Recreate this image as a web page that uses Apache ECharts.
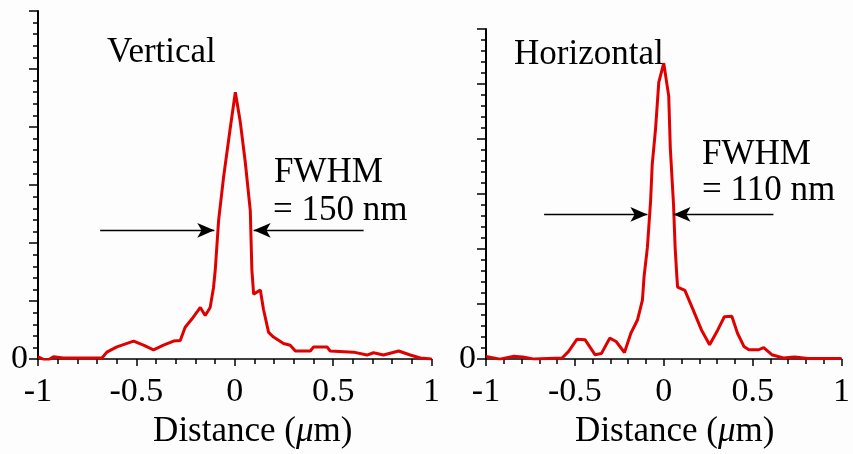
<!DOCTYPE html>
<html>
<head>
<meta charset="utf-8">
<script src="https://cdn.jsdelivr.net/npm/echarts@6/dist/echarts.min.js"></script>
<style>
  html, body { margin: 0; padding: 0; background: #fcfdfc; }
  #main { width: 853px; height: 454px; }
</style>
</head>
<body>
<div id="main"></div>
<script>
// vertical profile (distance in um, intensity in arbitrary units)
var vertX = [-1.0, -0.955, -0.921, -0.872, -0.675, -0.650, -0.599, -0.514, -0.464, -0.413, -0.362, -0.311, -0.277,
  -0.252, -0.218, -0.175, -0.150, -0.125, -0.108, -0.099, -0.082, -0.057, -0.023, 0.003, 0.028, 0.053, 0.079, 0.087,
  0.096, 0.130, 0.146, 0.172, 0.197, 0.248, 0.282, 0.308, 0.384, 0.401, 0.469, 0.485, 0.604, 0.672, 0.705, 0.756,
  0.833, 0.892, 0.943, 1.0];
var vertY = [0.04, -0.03, 0.04, 0.02, 0.02, 0.12, 0.21, 0.31, 0.24, 0.16, 0.24, 0.31, 0.32,
  0.55, 0.69, 0.89, 0.75, 0.89, 1.23, 1.54, 2.39, 3.13, 3.98, 4.60, 4.09, 3.41, 2.56, 1.54,
  1.12, 1.19, 0.86, 0.46, 0.38, 0.27, 0.24, 0.14, 0.14, 0.21, 0.21, 0.14, 0.12, 0.07, 0.11, 0.07,
  0.14, 0.07, 0.02, 0.0];

// horizontal profile
var horizX = [-1.0, -0.922, -0.848, -0.793, -0.728, -0.572, -0.535, -0.489, -0.442, -0.387, -0.351, -0.304, -0.268,
  -0.221, -0.185, -0.148, -0.120, -0.111, -0.092, -0.074, -0.065, -0.046, -0.028, 0.0, 0.028, 0.037, 0.055, 0.064,
  0.074, 0.078, 0.119, 0.166, 0.212, 0.258, 0.304, 0.341, 0.383, 0.415, 0.451, 0.479, 0.534, 0.562, 0.608, 0.673,
  0.737, 0.811, 1.0];
var horizY = [0.05, 0.0, 0.05, 0.04, 0.0, 0.02, 0.14, 0.36, 0.35, 0.08, 0.10, 0.38, 0.32,
  0.12, 0.47, 0.71, 1.07, 1.49, 2.03, 2.87, 3.53, 4.19, 5.03, 5.38, 4.78, 3.83, 2.81, 2.03,
  1.49, 1.31, 1.25, 0.89, 0.53, 0.26, 0.53, 0.77, 0.78, 0.47, 0.23, 0.17, 0.17, 0.21, 0.08, 0.02,
  0.04, 0.01, 0.01];

// FWHM arrows: [outer start, arrow tip] on each side, at half max
var vertArrowY = 2.22;
var vertArrowsX = [[-0.684, -0.104], [0.655, 0.096]];
var horizArrowY = 2.63;
var horizArrowsX = [[-0.673, -0.092], [0.617, 0.055]];

var xTickLabels = { '-1': '-1', '-0.5': '-0.5', '0': '0', '0.5': '0.5', '1': '1' };
var yTickLabels = { '0': '0' };

var serif = '"Liberation Serif", "Times New Roman", serif';
var red = '#e00000';

function pairs(xs, ys) {
  return xs.map(function (x, i) { return [x, ys[i]]; });
}

function arrowLines(xs, y) {
  return xs.map(function (p) {
    return [{ coord: [p[0], y] }, { coord: [p[1], y] }];
  });
}

function xAxisFor(idx, shift) {
  return {
    type: 'value',
    gridIndex: idx,
    min: -1,
    max: 1,
    interval: 0.5,
    axisLine: { show: true, onZero: false, lineStyle: { color: '#000', width: 1.5 } },
    axisTick: { show: true, length: 7, lineStyle: { color: '#000', width: 1.5 } },
    minorTick: { show: true, splitNumber: 5, length: 5, lineStyle: { color: '#000', width: 1.5 } },
    splitLine: { show: false },
    axisLabel: {
      margin: 16,
      color: '#000',
      fontFamily: serif,
      fontSize: 34,
      formatter: function (v) { return xTickLabels[String(v)] || ''; }
    },
    name: 'Distance ({mu|μ}m)',
    nameLocation: 'middle',
    nameGap: 53,
    nameTextStyle: {
      color: '#000',
      fontFamily: serif,
      fontSize: 35,
      padding: [0, 0, 0, shift],
      rich: {
        mu: { fontFamily: serif, fontSize: 35, fontStyle: 'italic', color: '#000' }
      }
    }
  };
}

function yAxisFor(idx) {
  return {
    type: 'value',
    gridIndex: idx,
    min: 0,
    max: 6,
    interval: 1,
    axisLine: { show: true, onZero: false, lineStyle: { color: '#000', width: 2 } },
    axisTick: { show: true, length: 9, lineStyle: { color: '#000', width: 1.5 } },
    minorTick: { show: true, splitNumber: 5, length: 5, lineStyle: { color: '#000', width: 1.5 } },
    splitLine: { show: false },
    axisLabel: {
      margin: 10,
      color: '#000',
      fontFamily: serif,
      fontSize: 34,
      padding: [11, 0, 0, 0],
      formatter: function (v) { return yTickLabels[String(v)] || ''; }
    }
  };
}

function profileSeries(idx, data, arrowsX, arrowY) {
  return {
    type: 'line',
    xAxisIndex: idx,
    yAxisIndex: idx,
    data: data,
    showSymbol: false,
    lineStyle: { color: red, width: 3 },
    animation: false,
    markLine: {
      silent: true,
      animation: false,
      symbol: ['none', 'arrow'],
      symbolSize: [11, 17],
      label: { show: false },
      lineStyle: { color: '#000', width: 1.3, type: 'solid' },
      data: arrowLines(arrowsX, arrowY)
    }
  };
}

function label(text, x, y) {
  return {
    type: 'text',
    left: x,
    top: y,
    style: { text: text, fill: '#000', font: '35px ' + serif }
  };
}

var chart = echarts.init(document.getElementById('main'));
chart.setOption({
  backgroundColor: '#fcfdfc',
  animation: false,
  grid: [
    { left: 38, top: 11, right: 421.5, bottom: 90 },
    { left: 486, top: 29, right: 5.5, bottom: 91.3 }
  ],
  xAxis: [xAxisFor(0, 36), xAxisFor(1, 22)],
  yAxis: [yAxisFor(0), yAxisFor(1)],
  series: [
    profileSeries(0, pairs(vertX, vertY), vertArrowsX, vertArrowY),
    profileSeries(1, pairs(horizX, horizY), horizArrowsX, horizArrowY)
  ],
  graphic: [
    label('Vertical', 107, 35),
    label('FWHM', 274, 155),
    label('= 150 nm', 273, 193),
    label('Horizontal', 514, 37),
    label('FWHM', 702, 137),
    label('= 110 nm', 702, 173)
  ]
});
</script>
</body>
</html>
